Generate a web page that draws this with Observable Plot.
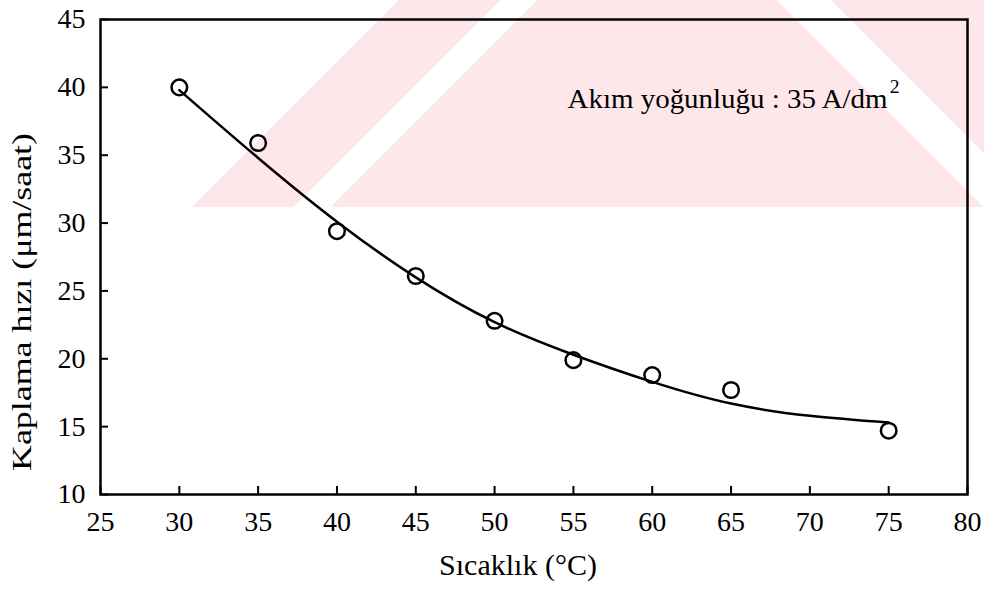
<!DOCTYPE html>
<html>
<head>
<meta charset="utf-8">
<script src="https://cdn.jsdelivr.net/npm/d3@7"></script>
<script src="https://cdn.jsdelivr.net/npm/@observablehq/plot@0.6"></script>
<style>
  html, body { margin: 0; padding: 0; background: #ffffff; }
  #chart { position: relative; width: 984px; height: 598px; overflow: hidden; }
  #wmL, #wmR { position: absolute; top: 0; height: 207px; }
  #wmL { left: 0px; width: 640px;
    background: linear-gradient(135deg, #ffffff 0px, #ffffff 282px, #fde7eb 282px, #fde7eb 354px, #ffffff 354px, #ffffff 380px, #fde7eb 380px, #fde7eb 100%); }
  #wmR { left: 640px; width: 344px;
    background: linear-gradient(45deg, #fde7eb 0px, #fde7eb 243px, #ffffff 243px, #ffffff 281px, #fde7eb 281px, #fde7eb 100%); }
  #chart svg { position: absolute; left: 0; top: 0; }
  #chart svg text { font-family: "Liberation Serif", "Times New Roman", serif !important; }
</style>
</head>
<body>
<div id="chart"><div id="wmL"></div><div id="wmR"></div></div>
<script>
// Measured points: temperature (°C) vs coating rate (µm/saat)
const temps = [30, 35, 40, 45, 50, 55, 60, 65, 75];
const rates = [40.0, 35.9, 29.4, 26.1, 22.8, 19.9, 18.8, 17.7, 14.7];

// Fitted curve
const fitTemps = [30, 35, 40, 45, 50, 55, 60, 65, 70, 75];
const fitRates = [39.8, 34.8, 30.1, 26.0, 22.7, 20.3, 18.3, 16.7, 15.8, 15.3];

// Axis ticks
const xTicks = [25, 30, 35, 40, 45, 50, 55, 60, 65, 70, 75, 80];
const yTicks = [10, 15, 20, 25, 30, 35, 40, 45];

// Texts
const xTitle = "Sıcaklık (°C)";
const yTitle = "Kaplama hızı (μm/saat)";
const note = "Akım yoğunluğu : 35 A/dm";
const noteSup = "2";

const points = temps.map((t, i) => ({t, r: rates[i]}));
const fit = fitTemps.map((t, i) => ({t, r: fitRates[i]}));

const W = 984, H = 598;
const mL = 100, mR = 17, mT = 19, mB = 104;
const plotW = W - mL - mR, plotH = H - mT - mB;
const serif = "Liberation Serif";

const chart = Plot.plot({
  width: W,
  height: H,
  marginLeft: mL,
  marginRight: mR,
  marginTop: mT,
  marginBottom: mB,
  style: {background: "transparent", fontFamily: serif, fontSize: "28px", color: "#000"},
  x: {domain: [25, 80]},
  y: {domain: [10, 45]},
  marks: [
    Plot.axisX({ticks: xTicks, tickSize: 0, tickPadding: 17, label: null, fontSize: 28, fontFamily: serif}),
    Plot.axisY({ticks: yTicks, tickSize: 0, tickPadding: 15, label: null, fontSize: 28, fontFamily: serif}),
    Plot.tickX(xTicks, {x: d => d, insetTop: plotH - 8, stroke: "#000", strokeWidth: 2}),
    Plot.tickY(yTicks, {y: d => d, insetRight: plotW - 8, stroke: "#000", strokeWidth: 2}),
    Plot.frame({stroke: "#000", strokeWidth: 2.5}),
    Plot.line(fit, {x: "t", y: "r", curve: "natural", stroke: "#000", strokeWidth: 2.5}),
    Plot.dot(points, {x: "t", y: "r", r: 7.8, stroke: "#000", strokeWidth: 2.5, fill: "none"}),
    Plot.text([note], {frameAnchor: "top-left", dx: 467, dy: 88, textAnchor: "start", lineAnchor: "bottom", fontSize: 28, fontFamily: serif, fill: "#000"}),
    Plot.text([yTitle], {frameAnchor: "left", rotate: -90, dx: -70, dy: 45, textAnchor: "middle", lineAnchor: "bottom", fontSize: 28, fontFamily: serif, fill: "#000"}),
    Plot.text([xTitle], {frameAnchor: "bottom", dx: -16, dy: 80, textAnchor: "middle", lineAnchor: "bottom", fontSize: 30, fontFamily: serif, fill: "#000"})
  ]
});

chart.querySelectorAll("text").forEach(t => {
  // stretch the y title to the length it has in the reference
  if (t.textContent === yTitle) {
    t.setAttribute("textLength", "338");
    t.setAttribute("lengthAdjust", "spacingAndGlyphs");
  }
  // superscript on the unit
  if (t.textContent === note) {
    t.setAttribute("textLength", "332");
    t.setAttribute("lengthAdjust", "spacingAndGlyphs");
    const sup = document.createElementNS("http://www.w3.org/2000/svg", "tspan");
    sup.setAttribute("dx", "2");
    sup.setAttribute("dy", "-15");
    sup.setAttribute("font-size", "19");
    sup.textContent = noteSup;
    t.appendChild(sup);
  }
});

document.getElementById("chart").appendChild(chart);
</script>
</body>
</html>
